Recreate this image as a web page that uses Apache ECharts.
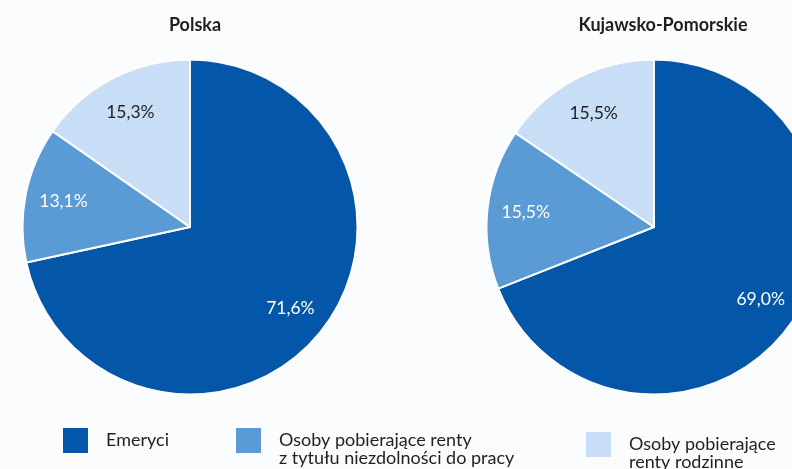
<!DOCTYPE html>
<html><head><meta charset="utf-8">
<script src="https://cdn.jsdelivr.net/npm/echarts@6/dist/echarts.min.js"></script>
<style>html,body{margin:0;padding:0;background:#fbfcfe;}#c{width:792px;height:469px;}</style>
</head><body><div id="c"></div>
<script>
var categories = ['Emeryci', 'Osoby pobierające renty\nz tytułu niezdolności do pracy', 'Osoby pobierające\nrenty rodzinne'];
var regions = ['Polska', 'Kujawsko-Pomorskie'];
var polskaValues = [71.6, 13.1, 15.3];
var kujawskoValues = [69.0, 15.5, 15.5];
var colors = ['#0457a8', '#5b9bd5', '#c8ddf6'];
var labelColors = ['#ffffff', '#ffffff', '#1f1f1f'];
var FONT = 'Lato, "Open Sans", sans-serif';

function fmt(v){ return v.toFixed(1).replace('.', ',') + '%'; }
function mkData(vals, ghost){
  return vals.map(function(v,i){
    return {name: categories[i], value: v,
      itemStyle: {color: ghost ? 'rgba(0,0,0,0)' : colors[i]},
      label: {color: labelColors[i]}};
  });
}
var centers = [[190, 227], [654, 227]];
var titleX = [190, 658];
var allVals = [polskaValues, kujawskoValues];
var series = [];
allVals.forEach(function(vals, k){
  series.push({type:'pie', center: centers[k], radius:[0,167.5], startAngle:90, clockwise:true,
    animation:false, silent:true,
    itemStyle:{borderColor:'#ffffff', borderWidth:2},
    label:{show:false}, labelLine:{show:false}, data: mkData(vals,false)});
  series.push({type:'pie', center: centers[k], radius:[100,152], startAngle:90, clockwise:true,
    animation:false, silent:true, legendHoverLink:false,
    itemStyle:{borderWidth:0},
    label:{show:true, position:'inside', fontFamily:FONT, fontSize:17.5,
      formatter:function(p){return fmt(p.value);}},
    labelLine:{show:false}, data: mkData(vals,true)});
});
var LH = 18;
function lg(idx, left, top, twoLine){
  var icon = twoLine ? 'path://M0,0h25v25h-25z M0,43h0.01' : 'rect';
  return {orient:'horizontal', icon:icon, itemWidth:25, itemHeight: twoLine ? 43 : 25,
    selectedMode:false, padding:0, left:left, top:top,
    itemStyle:{borderWidth:0},
    data:[{name:categories[idx], itemStyle:{color:colors[idx], borderWidth:0}}],
    textStyle:{fontFamily:FONT, fontSize:18, color:'#1f1f1f', lineHeight:LH, padding:[0,0,0,13]}};
}
var chart = echarts.init(document.getElementById('c'), null, {renderer:'canvas'});
chart.setOption({
  backgroundColor:'#fbfcfe',
  title: regions.map(function(r,k){
    return {text:r, left:titleX[k], top:11, textAlign:'center',
      textStyle:{fontFamily:FONT, fontWeight:'bold', fontSize:18, color:'#1f1f1f'}};
  }),
  legend: [
    lg(0, 63, 428, false),
    lg(1, 236, 428, true),
    lg(2, 586, 432, true)
  ],
  series: series
});
</script></body></html>
